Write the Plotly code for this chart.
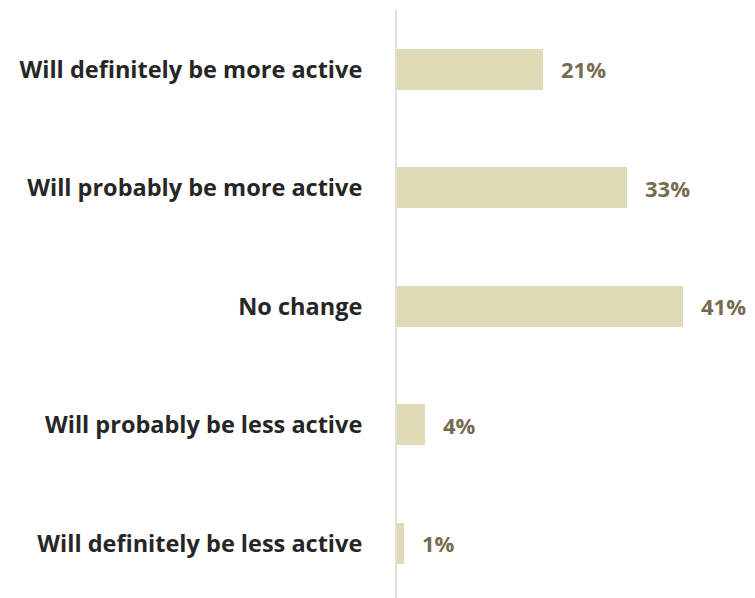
import plotly.graph_objects as go

categories = [
    "Will definitely be more active",
    "Will probably be more active",
    "No change",
    "Will probably be less active",
    "Will definitely be less active",
]
values = [21, 33, 41, 4, 1]
value_labels = ["21%", "33%", "41%", "4%", "1%"]

BAR_COLOR = "#DFDBB7"
VALUE_COLOR = "#776C50"
LABEL_COLOR = "#262626"
FONT = "Open Sans"

fig = go.Figure()
fig.add_trace(go.Bar(
    x=values,
    y=categories,
    orientation="h",
    width=0.346,
    marker=dict(color=BAR_COLOR, line=dict(width=0)),
    hoverinfo="skip",
))

for cat, val, lab in zip(categories, values, value_labels):
    fig.add_annotation(
        x=val, y=cat, text=f"<b>{lab}</b>",
        xanchor="left", yanchor="middle", xshift=16, showarrow=False,
        font=dict(family=FONT, size=22, color=VALUE_COLOR),
    )

fig.update_layout(
    width=755, height=598,
    margin=dict(l=397, r=0, t=10, b=0),
    paper_bgcolor="white", plot_bgcolor="white",
    showlegend=False,
    bargap=0,
    font=dict(family=FONT),
    xaxis=dict(range=[0, 51.4], visible=False, fixedrange=True),
    yaxis=dict(
        type="category",
        categoryorder="array", categoryarray=categories,
        range=[4.46, -0.502],
        showline=True, linecolor="#E3E0D6", linewidth=2,
        showgrid=False, zeroline=False, ticks="",
        ticklabelstandoff=28,
        tickfont=dict(family=FONT, size=23.5, color=LABEL_COLOR, weight="bold"),
    ),
)

fig.write_html("out.html")
